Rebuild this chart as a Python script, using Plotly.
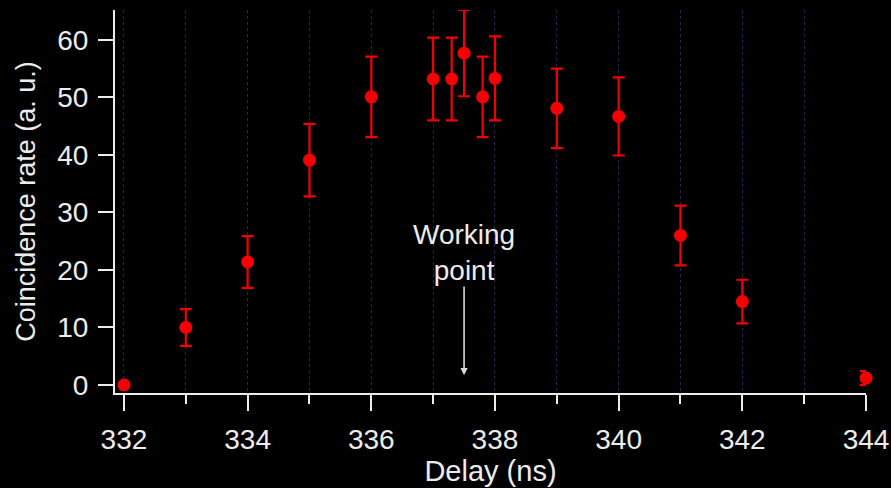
import plotly.graph_objects as go

# Coincidence rate versus delay, with symmetric error bars
delay_ns = [332, 333, 334, 335, 336, 337, 337.3, 337.5, 337.8, 338, 339, 340, 341, 342, 344]
rate = [0.0, 10.0, 21.4, 39.1, 50.1, 53.2, 53.2, 57.7, 50.1, 53.3, 48.1, 46.7, 26.0, 14.5, 1.2]
rate_err = [0.0, 3.2, 4.5, 6.3, 7.0, 7.2, 7.2, 7.5, 7.0, 7.3, 6.9, 6.8, 5.2, 3.8, 1.2]

x_major_ticks = [332, 334, 336, 338, 340, 342, 344]
y_ticks = [0, 10, 20, 30, 40, 50, 60]

working_point = 337.5

FONT = "Liberation Sans, Arial, sans-serif"
WHITE = "#ececec"
RED = "#f40000"
GRID = "#262650"

fig = go.Figure()

fig.add_trace(go.Scatter(
    x=delay_ns,
    y=rate,
    mode="markers",
    marker=dict(color=RED, size=13, line=dict(width=0)),
    error_y=dict(type="data", array=rate_err, visible=True,
                 color=RED, thickness=2.2, width=6),
    cliponaxis=False,
    showlegend=False,
))

# "Working point" label with a downward arrow
fig.add_annotation(x=working_point, y=23.0, xref="x", yref="y",
                   text="Working<br>point", showarrow=False,
                   font=dict(family=FONT, size=28, color=WHITE),
                   yanchor="middle")
fig.add_annotation(x=working_point, y=1.7, xref="x", yref="y",
                   ax=working_point, ay=17.4, axref="x", ayref="y",
                   text="", showarrow=True, arrowhead=2, arrowsize=0.9,
                   arrowwidth=1.6, arrowcolor="#d8d8d8")

fig.update_layout(
    width=891,
    height=488,
    paper_bgcolor="#000000",
    plot_bgcolor="#000000",
    margin=dict(l=115, r=25, t=10, b=95),
    font=dict(family=FONT, size=28, color=WHITE),
    xaxis=dict(
        range=[331.855, 344],
        automargin=False,
        tickvals=x_major_ticks,
        ticks="outside", ticklen=16, tickwidth=2, tickcolor=WHITE,
        tickfont=dict(family=FONT, size=28, color=WHITE),
        ticklabelstandoff=4,
        showline=True, linewidth=2, linecolor=WHITE,
        showgrid=True, gridcolor=GRID, gridwidth=1, griddash="dot",
        minor=dict(dtick=1, tick0=331, ticks="outside", ticklen=9,
                   tickwidth=2, tickcolor=WHITE, showgrid=True,
                   gridcolor=GRID, gridwidth=1, griddash="dot"),
        zeroline=False,
        title=dict(text="Delay (ns)", font=dict(family=FONT, size=29, color=WHITE),
                   standoff=6),
    ),
    yaxis=dict(
        range=[-1.39, 65.2],
        automargin=False,
        tickvals=y_ticks,
        ticks="outside", ticklen=15, tickwidth=2, tickcolor=WHITE,
        tickfont=dict(family=FONT, size=28, color=WHITE),
        ticklabelstandoff=4,
        showline=True, linewidth=2, linecolor=WHITE,
        showgrid=False, zeroline=False,
        title=dict(text="Coincidence rate (a. u.)",
                   font=dict(family=FONT, size=27, color=WHITE),
                   standoff=14),
    ),
)

fig.write_html("out.html")
